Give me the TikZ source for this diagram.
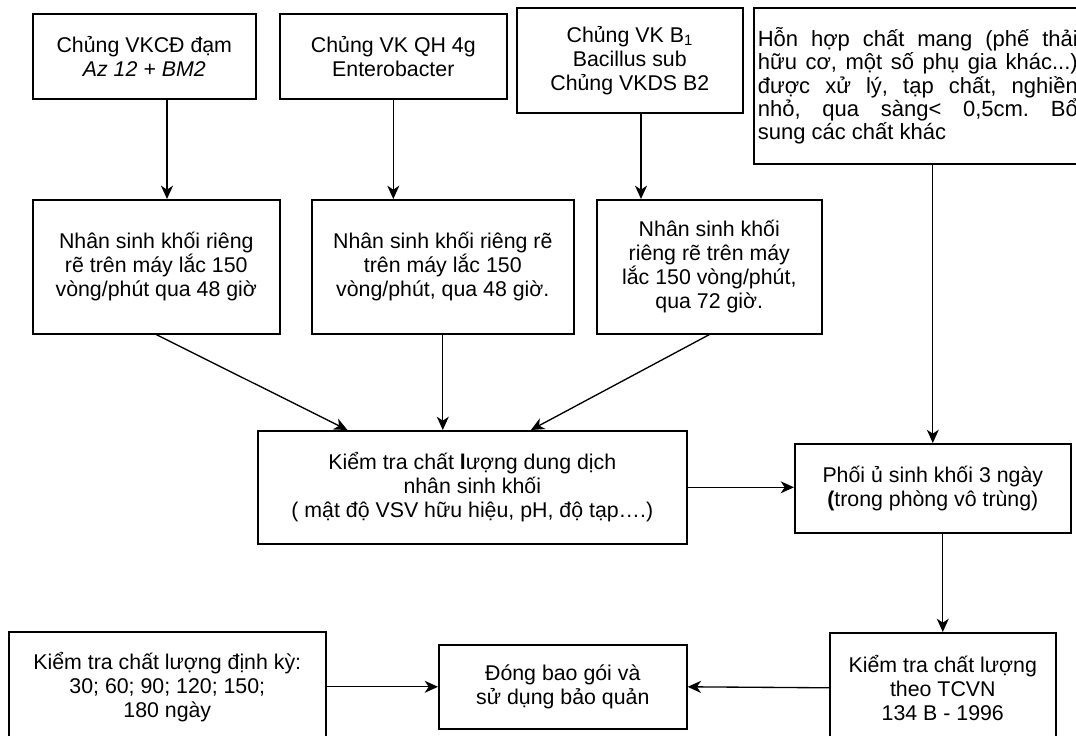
\documentclass[tikz,border=0pt]{standalone}
\usepackage{fontspec}
\setmainfont{Liberation Sans}
\usetikzlibrary{arrows.meta}
\usetikzlibrary{calc}
\tikzset{blk/.style 2 args={draw, line width=1.2pt, anchor=north west, align=center,
  inner sep=2pt, minimum width=#1*0.75pt, minimum height=#2*0.75pt}}
\tikzset{flow/.style={line width=1pt, -{Stealth[length=10pt,width=9pt,inset=3pt]}}}
\frenchspacing

\begin{document}
\begin{tikzpicture}[x=0.75pt, y=-0.75pt, font=\fontsize{16}{18}\selectfont]
  \clip (0,0) rectangle (1076,736);
  \node [blk={223}{85}] (s1) at (32,13) {Chủng VKCĐ đạm\\\textit{Az 12 + BM2}};
  \node [blk={227}{85}] (s2) at (279,13) {Chủng VK QH 4g\\Enterobacter};
  \node [blk={226}{105}] (s3) at (516,7) {Chủng VK B\textsubscript{1}\\Bacillus sub\\Chủng VKDS B2};
  \node [draw, line width=1.2pt, anchor=north west, inner xsep=3pt, inner ysep=0pt] (s4) at (753,7)
    {\parbox[c][117pt][c]{240pt}{\fontsize{16.5}{17.5}\selectfont
      \makebox[\linewidth][s]{Hỗn hợp chất mang (phế thải}\\
      \makebox[\linewidth][s]{hữu cơ, một số phụ gia khác...)}\\
      \makebox[\linewidth][s]{được xử lý, tạp chất, nghiền}\\
      \makebox[\linewidth][s]{nhỏ, qua sàng< 0,5cm. Bổ}\\
      sung các chất khác}};
  \node [blk={247}{134}] (g1) at (32,199) {Nhân sinh khối riêng\\rẽ trên máy lắc 150\\vòng/phút qua 48 giờ};
  \node [blk={262}{134}] (g2) at (311,199) {Nhân sinh khối riêng rẽ\\trên máy lắc 150\\vòng/phút, qua 48 giờ.};
  \node [blk={225}{134}] (g3) at (596,199) {Nhân sinh khối\\riêng rẽ trên máy\\lắc 150 vòng/phút,\\qua 72 giờ.};
  \node [blk={429}{113}] (check) at (257,430) {Kiểm tra chất \textbf{l}ượng dung dịch\\nhân sinh khối\\( mật độ VSV hữu hiệu, pH, độ tạp….)};
  \node [blk={276}{89}] (phoi) at (794,443) {Phối ủ sinh khối 3 ngày\\\textbf{(}trong phòng vô trùng)};
  \node [blk={317}{110}] (dk) at (8,631) {Kiểm tra chất lượng định kỳ:\\30; 60; 90; 120; 150;\\180 ngày};
  \node [blk={248}{84}] (pack) at (438,644) {Đóng bao gói và\\sử dụng bảo quản};
  \node [blk={226}{110}] (kt) at (829,632) {Kiểm tra chất lượng\\theo TCVN\\134 B - 1996};
  \coordinate (a1) at (167,0);
  \coordinate (a3) at (641,0);
  \draw [flow] (s1.south -| a1) -- (g1.north -| a1);
  \draw [flow] (s2.south) -- (s2.south |- g2.north);
  \draw [flow] (s3.south -| a3) -- (g3.north -| a3);
  \draw [flow] (s4.south -| phoi.north) -- (phoi.north);
  \draw [flow] (g1.south) -- ($(check.north west)!0.21!(check.north east)$);
  \draw [flow] (g2.south) -- (g2.south |- check.north);
  \draw [flow] (g3.south) -- ($(check.north west)!0.636!(check.north east)$);
  \draw [flow] (check.east) -- (check.east -| phoi.west);
  \draw [flow] (phoi.south -| kt.north) -- (kt.north);
  \draw [flow] (dk.east) -- (pack.west);
  \draw [flow] (kt.west) -- (pack.east);
\end{tikzpicture}
\end{document}
